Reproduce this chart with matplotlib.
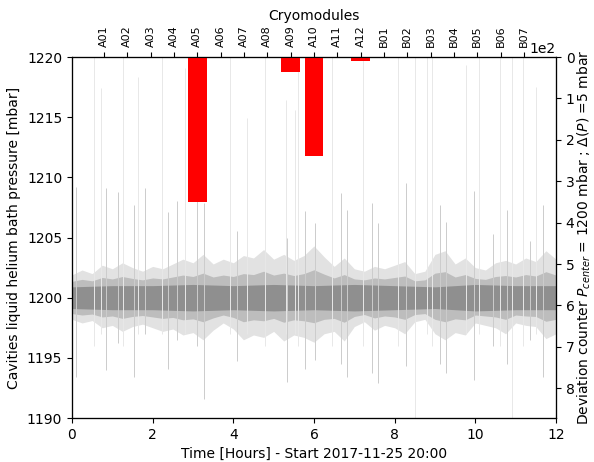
import matplotlib
matplotlib.use('Agg')
import matplotlib.pyplot as plt
import numpy as np

# cryomodule deviation counters (top axis)
modules = ['A01', 'A02', 'A03', 'A04', 'A05', 'A06', 'A07', 'A08', 'A09', 'A10',
           'A11', 'A12', 'B01', 'B02', 'B03', 'B04', 'B05', 'B06', 'B07']
counts = [0, 0, 0, 0, 350, 0, 0, 0, 35, 238, 0, 9, 0, 0, 0, 0, 0, 0, 0]

# pressure band envelope (hours, mbar)
env_t = [0.0, 0.25, 0.5, 0.75, 1.0, 1.25, 1.5, 1.75, 2.0, 2.25, 2.5, 2.75, 3.0,
         3.25, 3.5, 3.75, 4.0, 4.25, 4.5, 4.75, 5.0, 5.25, 5.5, 5.75, 6.0,
         6.25, 6.5, 6.75, 7.0, 7.25, 7.5, 7.75, 8.0, 8.25, 8.5, 8.75, 9.0,
         9.25, 9.5, 9.75, 10.0, 10.25, 10.5, 10.75, 11.0, 11.25, 11.5, 11.75, 12.0]
outer_hi = [1201.9, 1202.3, 1202.0, 1202.7, 1202.4, 1202.9, 1202.5, 1202.2, 1202.6,
            1202.4, 1202.8, 1203.2, 1202.9, 1203.6, 1202.8, 1203.2, 1202.9, 1203.5,
            1203.3, 1204.0, 1203.2, 1203.6, 1203.1, 1203.5, 1204.3, 1203.4, 1202.6,
            1203.3, 1202.4, 1202.2, 1202.6, 1202.4, 1202.7, 1203.0, 1202.0, 1202.2,
            1203.6, 1203.9, 1202.8, 1203.3, 1202.5, 1202.3, 1202.9, 1203.1, 1202.8,
            1203.3, 1203.0, 1203.9, 1203.2]
outer_lo = [1198.2, 1197.9, 1198.1, 1197.5, 1197.7, 1197.2, 1197.6, 1197.8, 1197.5,
            1197.2, 1197.4, 1196.9, 1197.1, 1196.5, 1197.3, 1197.9, 1197.4, 1196.5,
            1196.9, 1196.7, 1197.2, 1196.4, 1196.9, 1196.7, 1196.3, 1197.0, 1197.2,
            1196.4, 1197.6, 1198.0, 1197.3, 1197.7, 1197.5, 1197.0, 1198.0, 1198.2,
            1197.0, 1196.5, 1197.1, 1196.9, 1197.9, 1197.7, 1197.5, 1197.0, 1197.9,
            1197.7, 1197.6, 1196.6, 1197.0]

core_t = [0, 1, 2, 3, 4, 5, 6, 7, 8, 9, 10, 11, 12]
core_hi = [1200.9, 1201.0, 1201.0, 1201.1, 1201.0, 1201.1, 1201.0, 1201.1, 1201.0,
           1200.9, 1201.1, 1201.0, 1201.0]
core_lo = [1199.1, 1199.0, 1199.0, 1198.9, 1199.0, 1198.9, 1199.0, 1198.9, 1199.0,
           1199.1, 1198.9, 1199.0, 1199.0]

# pressure spikes (time, min, max)
spike_t = [0.10, 0.84, 1.15, 1.54, 1.81, 2.38, 2.60, 3.09, 3.27, 4.08, 5.32, 5.78,
           6.03, 6.67, 6.81, 7.43, 7.58, 8.28, 9.12, 9.27, 9.97, 10.44, 10.79,
           11.36, 11.68]
spike_lo = [1193.4, 1194.0, 1196.2, 1193.4, 1197.0, 1194.1, 1196.5, 1196.0, 1191.6,
            1194.7, 1193.0, 1194.1, 1194.8, 1194.5, 1193.4, 1193.7, 1192.9, 1194.3,
            1194.5, 1193.7, 1193.2, 1196.0, 1194.5, 1196.5, 1193.4]
spike_hi = [1209.2, 1209.1, 1208.8, 1207.7, 1209.1, 1207.1, 1208.0, 1208.0, 1207.9,
            1205.5, 1205.0, 1207.2, 1206.2, 1208.7, 1207.3, 1207.9, 1206.2, 1209.5,
            1207.7, 1206.3, 1208.9, 1205.3, 1207.3, 1204.7, 1207.7]

# faint single-sample glitches
faint_t = [0.55, 0.71, 1.27, 1.64, 2.22, 2.79, 3.92, 4.35, 4.79, 5.30, 5.53, 5.61,
           6.44, 7.21, 8.09, 8.50, 8.81, 8.92, 9.77, 10.08, 10.61, 10.90, 11.19, 11.50]
faint_lo = [1196, 1197, 1196, 1197, 1197, 1197, 1197, 1197, 1196, 1197, 1197, 1196,
            1196, 1196, 1196, 1190, 1197, 1196, 1197, 1197, 1196, 1190, 1196, 1197]
faint_hi = [1220, 1217.4, 1220, 1218.3, 1220, 1219.1, 1220, 1214.9, 1220, 1216.4,
            1215.6, 1220, 1220, 1220, 1220, 1220, 1220, 1220, 1219.3, 1220, 1220,
            1220, 1220, 1217.5]

fig = plt.figure(figsize=(5.94, 4.62), dpi=100)
ax = fig.add_axes([0.1212, 0.0952, 0.8148, 0.7814])

ax.vlines(faint_t, faint_lo, faint_hi, color='#e8e8e8', lw=0.7)
ax.vlines(spike_t, spike_lo, spike_hi, color='#cccccc', lw=0.7)
ax.fill_between(env_t, outer_lo, outer_hi, color='#e2e2e2', lw=0)
inner_hi = [1201.0 + 0.4 * (v - 1201.0) for v in outer_hi]
inner_lo = [1199.0 + 0.4 * (v - 1199.0) for v in outer_lo]
ax.fill_between(env_t, inner_lo, inner_hi, color='#bdbdbd', lw=0)
ax.fill_between(core_t, core_lo, core_hi, color='#8f8f8f', lw=0)

ax.set_xlim(0, 12)
ax.set_ylim(1190, 1220)
ax.set_xlabel('Time [Hours] - Start 2017-11-25 20:00')
ax.set_ylabel('Cavities liquid helium bath pressure [mbar]')

ax2 = ax.twinx()
ax2.set_ylim(872, 0)
ax2.ticklabel_format(axis='y', style='sci', scilimits=(0, 0))
ax2.set_ylabel(r'Deviation counter $P_{center}$ = 1200 mbar ; $\Delta(P)$ =5 mbar',
               labelpad=1)

ax3 = ax2.twiny()
idx = np.arange(len(modules))
ax3.bar(idx, counts, width=0.8, color='red')
ax3.set_xlim(-1.37, len(modules) - 1 + 1.37)
ax3.set_xticks(idx)
ax3.set_xticklabels(modules, rotation=90, fontsize=8)
ax3.set_xlabel('Cryomodules')

fig.savefig('out.png', dpi=100)
